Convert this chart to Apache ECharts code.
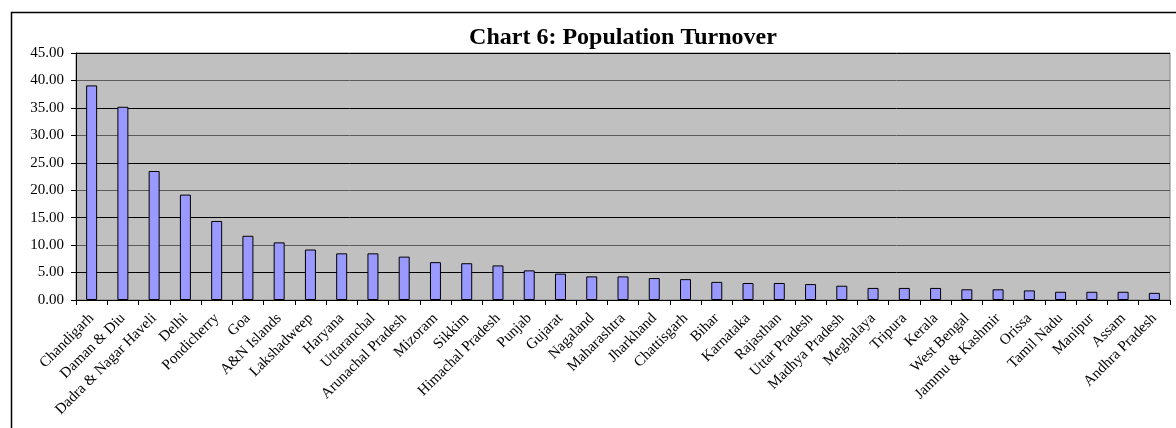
<!DOCTYPE html>
<html>
<head>
<meta charset="utf-8">
<script src="https://cdn.jsdelivr.net/npm/echarts@6/dist/echarts.min.js"></script>
<style>
  html, body { margin: 0; padding: 0; background: #fff; }
  #chart { width: 1176px; height: 428px; }
</style>
</head>
<body>
<div id="chart"></div>
<script>
// Population turnover by state / union territory
const states = [
  'Chandigarh', 'Daman & Diu', 'Dadra & Nagar Haveli', 'Delhi', 'Pondicherry', 'Goa',
  'A&N Islands', 'Lakshadweep', 'Haryana', 'Uttaranchal', 'Arunachal Pradesh', 'Mizoram',
  'Sikkim', 'Himachal Pradesh', 'Punjab', 'Gujarat', 'Nagaland', 'Maharashtra',
  'Jharkhand', 'Chattisgarh', 'Bihar', 'Karnataka', 'Rajasthan', 'Uttar Pradesh',
  'Madhya Pradesh', 'Meghalaya', 'Tripura', 'Kerala', 'West Bengal', 'Jammu & Kashmir',
  'Orissa', 'Tamil Nadu', 'Manipur', 'Assam', 'Andhra Pradesh'
];
const turnover = [
  39.1, 35.2, 23.5, 19.2, 14.4, 11.7,
  10.5, 9.2, 8.5, 8.5, 7.9, 6.9,
  6.7, 6.3, 5.4, 4.8, 4.3, 4.3,
  4.0, 3.8, 3.3, 3.1, 3.1, 2.9,
  2.6, 2.2, 2.2, 2.2, 1.95, 1.95,
  1.75, 1.5, 1.5, 1.5, 1.3
];
const yMin = 0, yMax = 45, yStep = 5;

const chart = echarts.init(document.getElementById('chart'), null, { renderer: 'canvas' });
const serif = '"Liberation Serif", "DejaVu Serif", serif';

const gridLeft = 76, gridRight = 6;

chart.setOption({
  animation: false,
  backgroundColor: '#fff',
  title: {
    text: 'Chart 6: Population Turnover',
    left: gridLeft + (1176 - gridLeft - gridRight) / 2,
    textAlign: 'center',
    top: 26,
    padding: 0,
    textStyle: { fontFamily: serif, fontSize: 24, fontWeight: 'bold', color: '#000' }
  },
  graphic: [{
    type: 'rect',
    shape: { x: 11.5, y: 12.5, width: 1300, height: 600 },
    style: { fill: 'none', stroke: '#000', lineWidth: 1.5 },
    silent: true,
    z: 100
  }],
  grid: {
    left: gridLeft, top: 53, right: gridRight, bottom: 128,
    show: true,
    backgroundColor: '#c0c0c0',
    borderColor: '#808080',
    borderWidth: 1
  },
  xAxis: {
    type: 'category',
    data: states,
    axisLine: { lineStyle: { color: '#000', width: 1 } },
    axisTick: { show: true, length: 5, alignWithLabel: false, lineStyle: { color: '#000' } },
    axisLabel: {
      interval: 0,
      rotate: 45,
      margin: 16,
      fontFamily: serif,
      fontSize: 15,
      color: '#000'
    }
  },
  yAxis: {
    type: 'value',
    min: yMin, max: yMax, interval: yStep,
    axisLine: { show: true, lineStyle: { color: '#000', width: 1 } },
    axisTick: { show: true, length: 5, lineStyle: { color: '#000' } },
    axisLabel: {
      margin: 12,
      fontFamily: serif,
      fontSize: 15,
      color: '#000',
      formatter: v => v.toFixed(2)
    },
    splitLine: { show: true, lineStyle: { color: ['#5a5a5a', '#000'], width: 1 } }
  },
  series: [{
    type: 'bar',
    data: turnover,
    barWidth: 11,
    itemStyle: { color: '#9999ff', borderColor: '#000', borderWidth: 1 }
  }]
});
</script>
</body>
</html>
